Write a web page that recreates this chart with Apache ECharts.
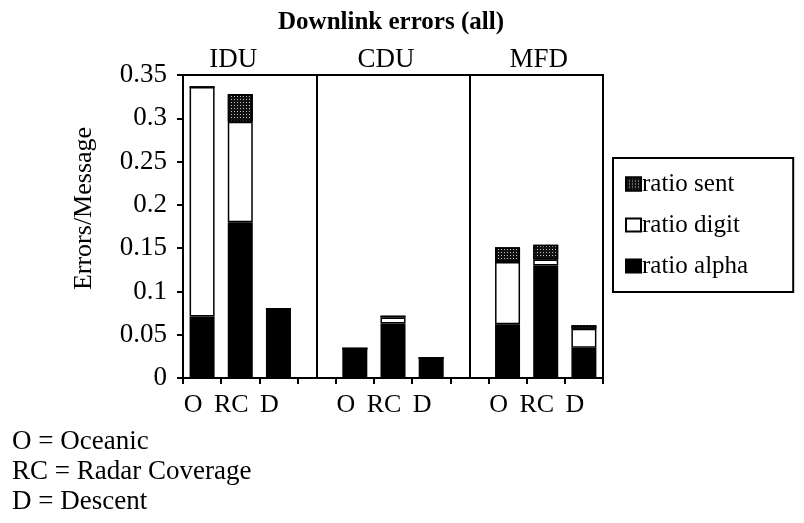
<!DOCTYPE html>
<html>
<head>
<meta charset="utf-8">
<script src="https://cdn.jsdelivr.net/npm/echarts@6/dist/echarts.min.js"></script>
<style>
html,body{margin:0;padding:0;background:#fff;}
#chart{width:804px;height:523px;}
</style>
</head>
<body>
<div id="chart"></div>
<script>
// ---- data ----
const categories = ['O', 'RC', 'D', '', 'O', 'RC', 'D', '', 'O', 'RC', 'D'];
const panelLabels = ['', 'IDU', '', '', '', 'CDU', '', '', '', 'MFD', ''];
const ratioAlpha = [0.071, 0.180, 0.080, null, 0.034, 0.063, 0.023, null, 0.062, 0.130, 0.035];
const ratioDigit = [0.265, 0.116, 0, null, 0, 0.007, 0, null, 0.072, 0.007, 0.022];
const ratioSent  = [0, 0.032, 0, null, 0, 0.002, 0, null, 0.017, 0.017, 0.004];
const dividerIdx = [3, 7];
const yTicks = { min: 0, max: 0.35, interval: 0.05 };
const footnote = 'O = Oceanic\nRC = Radar Coverage\nD = Descent';

const FONT = '"Liberation Serif", "DejaVu Serif", serif';
const chart = echarts.init(document.getElementById('chart'), null, { renderer: 'canvas' });

const barBase = {
  type: 'bar',
  stack: 'all',
  barWidth: 25,
  emphasis: { disabled: true }
};

chart.setOption({
  animation: false,
  backgroundColor: '#fff',
  title: [{
    text: 'Downlink errors (all)',
    left: 386,
    top: 5,
    textAlign: 'center',
    textStyle: { fontFamily: FONT, fontSize: 25, fontWeight: 'bold', color: '#000' }
  }, {
    text: footnote,
    left: 12,
    top: 427,
    padding: 0,
    textStyle: { fontFamily: FONT, fontSize: 27, fontWeight: 'normal', color: '#000', lineHeight: 30 }
  }],
  legend: {
    orient: 'vertical',
    left: 613,
    top: 158,
    padding: [9, 45, 9, 12],
    itemGap: 7,
    itemWidth: 15,
    itemHeight: 13,
    icon: 'rect',
    borderColor: '#000',
    borderWidth: 2,
    data: ['ratio sent', 'ratio digit', 'ratio alpha'],
    textStyle: { fontFamily: FONT, fontSize: 25, color: '#000', padding: [6, 0, 0, -4], lineHeight: 28 }
  },
  grid: {
    left: 183, right: 201, top: 75, bottom: 145,
    show: true, borderColor: '#000', borderWidth: 2, backgroundColor: 'transparent'
  },
  xAxis: [{
    type: 'category',
    data: categories,
    position: 'bottom',
    axisLine: { lineStyle: { color: '#000', width: 2 } },
    axisTick: { show: true, interval: 0, length: 6, lineStyle: { color: '#000', width: 2 } },
    axisLabel: { interval: 0, margin: 14, fontFamily: FONT, fontSize: 26, color: '#000', padding: [0, 18, 0, 0] }
  }, {
    type: 'category',
    data: panelLabels,
    position: 'top',
    axisLine: { show: false },
    axisTick: { show: false },
    axisLabel: { interval: 0, margin: 2, fontFamily: FONT, fontSize: 27, color: '#000', padding: [0, 14, 0, 0] }
  }],
  yAxis: {
    type: 'value',
    min: yTicks.min, max: yTicks.max, interval: yTicks.interval,
    name: 'Errors/Message',
    nameLocation: 'middle',
    nameRotate: 90,
    nameGap: 86,
    nameTextStyle: { fontFamily: FONT, fontSize: 26, color: '#000', padding: [0, 0, 0, 36] },
    axisLine: { show: true, lineStyle: { color: '#000', width: 2 } },
    axisTick: { show: true, length: 6, lineStyle: { color: '#000', width: 2 } },
    splitLine: { show: false },
    axisLabel: { margin: 16, fontFamily: FONT, fontSize: 27, color: '#000' }
  },
  series: [{
    ...barBase,
    name: 'ratio alpha',
    data: ratioAlpha,
    itemStyle: { color: '#000', borderColor: '#000', borderWidth: 1.5 },
    markLine: {
      silent: true,
      symbol: 'none',
      label: { show: false },
      lineStyle: { color: '#000', width: 2, type: 'solid' },
      data: dividerIdx.map(i => ({ xAxis: i }))
    }
  }, {
    ...barBase,
    name: 'ratio digit',
    data: ratioDigit,
    itemStyle: { color: '#fff', borderColor: '#000', borderWidth: 1.5 }
  }, {
    ...barBase,
    name: 'ratio sent',
    data: ratioSent,
    itemStyle: {
      color: '#111', borderColor: '#000', borderWidth: 1.5,
      decal: { symbol: 'rect', symbolSize: 1, color: 'rgba(255,255,255,0.75)', dashArrayX: [1, 2], dashArrayY: [1, 2], rotation: 0 }
    }
  }]
});
</script>
</body>
</html>
